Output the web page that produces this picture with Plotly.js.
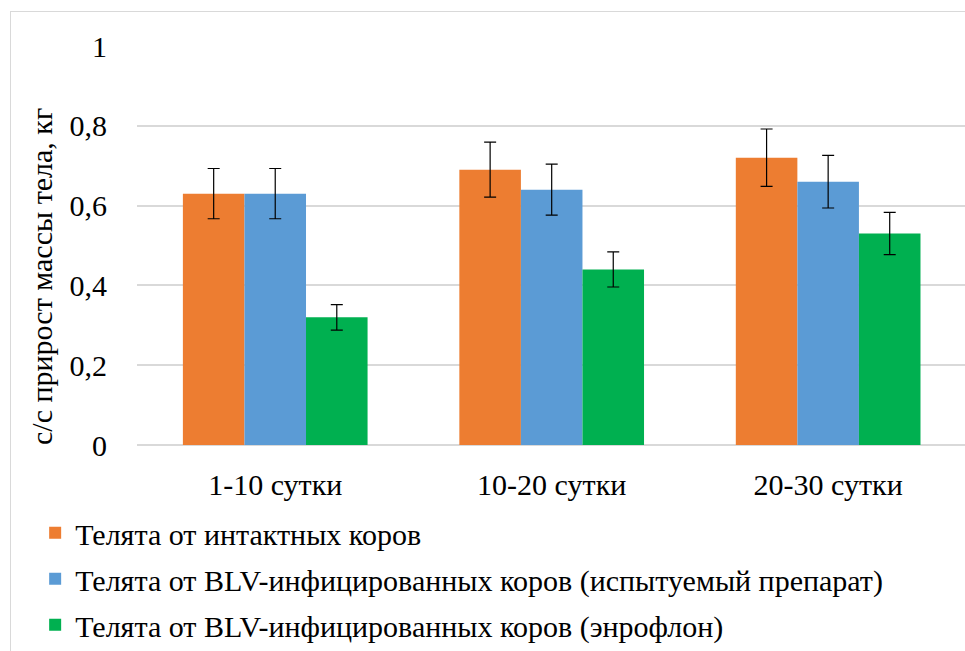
<!DOCTYPE html>
<html>
<head>
<meta charset="utf-8">
<script src="https://cdn.plot.ly/plotly-3.0.1.min.js"></script>
<style>
html,body{margin:0;padding:0;background:#fff;overflow:hidden;}
#frame{position:absolute;left:10px;top:11px;width:1000px;height:700px;border:1.5px solid #d9d9d9;box-sizing:border-box;}
#chart{position:absolute;left:0;top:0;width:965px;height:651px;}
</style>
</head>
<body>
<div id="frame"></div>
<div id="chart"></div>
<script>
const categories = ['1-10 сутки', '10-20 сутки', '20-30 сутки'];
const seriesNames = [
  'Телята от интактных коров',
  'Телята от BLV-инфицированных коров (испытуемый препарат)',
  'Телята от BLV-инфицированных коров (энрофлон)'
];
const intactValues = [0.63, 0.69, 0.72];
const testedValues = [0.63, 0.64, 0.66];
const enroflonValues = [0.32, 0.44, 0.53];
const intactErrors = [0.063, 0.069, 0.072];
const testedErrors = [0.063, 0.064, 0.066];
const enroflonErrors = [0.032, 0.044, 0.053];
const yTickValues = [0, 0.2, 0.4, 0.6, 0.8, 1];
const yTickLabels = ['0', '0,2', '0,4', '0,6', '0,8', '1'];
const yTitle = 'с/с прирост массы тела, кг';

const colors = ['#ED7D31', '#5B9BD5', '#00B050'];
const values = [intactValues, testedValues, enroflonValues];
const errors = [intactErrors, testedErrors, enroflonErrors];
const FONT = 'Liberation Serif, Times New Roman, DejaVu Serif, serif';
const FS = 30;

const traces = values.map((v, i) => ({
  type: 'bar',
  name: seriesNames[i],
  x: categories,
  y: v,
  legendgroup: 'g' + i,
  marker: {color: colors[i], line: {width: 0}},
  error_y: {type: 'data', array: errors[i], visible: true, color: '#000', thickness: 1.2, width: 6},
  hoverinfo: 'x+y'
}));

const layout = {
  width: 965,
  height: 651,
  margin: {l: 137, r: 0, t: 46, b: 200, pad: 0},
  paper_bgcolor: 'rgba(0,0,0,0)',
  plot_bgcolor: 'rgba(0,0,0,0)',
  font: {family: FONT, size: FS, color: '#000'},
  barmode: 'group',
  bargap: 0.332,
  bargroupgap: 0,
  showlegend: true,
  legend: {
    orientation: 'v',
    x: -0.123, xanchor: 'left',
    y: -0.155, yanchor: 'top',
    font: {family: FONT, size: FS, color: '#000'},
    tracegroupgap: 4,
    bgcolor: 'rgba(0,0,0,0)'
  },
  xaxis: {
    type: 'category',
    range: [-0.5, 2.495],
    showgrid: false,
    showline: false,
    zeroline: false,
    ticks: '',
    ticklabelstandoff: 19,
    tickfont: {family: FONT, size: FS, color: '#000'}
  },
  yaxis: {
    range: [0, 1],
    tickvals: yTickValues,
    ticktext: yTickLabels,
    showgrid: true,
    gridcolor: '#d9d9d9',
    gridwidth: 1.5,
    zeroline: true,
    zerolinecolor: '#d9d9d9',
    zerolinewidth: 1.5,
    showline: false,
    ticks: '',
    ticklabelstandoff: 29,
    tickfont: {family: FONT, size: FS, color: '#000'}
  },
  annotations: [{
    text: yTitle,
    xref: 'paper', yref: 'paper',
    x: -0.1155, y: 0.422,
    xanchor: 'center', yanchor: 'middle',
    textangle: -90,
    showarrow: false,
    font: {family: FONT, size: FS, color: '#000'}
  }]
};

Plotly.newPlot('chart', traces, layout, {displayModeBar: false, responsive: false});
</script>
</body>
</html>
